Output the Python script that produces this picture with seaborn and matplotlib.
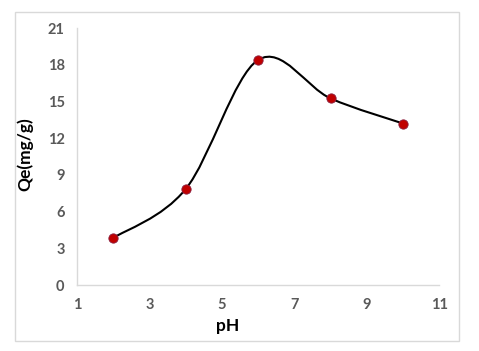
import seaborn as sns
import matplotlib.pyplot as plt
import numpy as np
from matplotlib.path import Path
from matplotlib.patches import PathPatch, Rectangle

ph = [2, 4, 6, 8, 10]
qe = [3.85, 7.85, 18.4, 15.25, 13.2]
xticks = [1, 3, 5, 7, 9, 11]
yticks = [0, 3, 6, 9, 12, 15, 18, 21]

sns.set_style("white")
plt.rcParams['font.family'] = ['Lato', 'DejaVu Sans']

fig = plt.figure(figsize=(4.79, 3.51), dpi=100)
ax = fig.add_axes([0.161, 0.188, 0.756, 0.732])

# Excel-like smoothed line: cubic Bezier segments through the points
pts = np.column_stack([ph, qe]).astype(float)
verts = [pts[0]]
codes = [Path.MOVETO]
n = len(pts)
for i in range(n - 1):
    p0 = pts[i - 1] if i > 0 else pts[i]
    p1 = pts[i]
    p2 = pts[i + 1]
    p3 = pts[i + 2] if i + 2 < n else pts[i + 1]
    c1 = p1 + (p2 - p0) / 6
    c2 = p2 - (p3 - p1) / 6
    verts += [c1, c2, p2]
    codes += [Path.CURVE4] * 3
ax.add_patch(PathPatch(Path(verts, codes), fill=False, edgecolor="black", lw=1.5, zorder=2))

sns.scatterplot(x=ph, y=qe, ax=ax, color="#C00000", edgecolor="#8a2040",
                linewidth=0.6, s=45, zorder=3)

ax.set_xlim(1, 11)
ax.set_ylim(0, 21)
ax.set_xticks(xticks)
ax.set_yticks(yticks)
ax.tick_params(length=0, labelsize=10.5, labelcolor="#595959", pad=9)
for lab in ax.get_xticklabels() + ax.get_yticklabels():
    lab.set_fontweight("bold")

for s in ["top", "right"]:
    ax.spines[s].set_visible(False)
for s in ["left", "bottom"]:
    ax.spines[s].set_color("#d9d9d9")
    ax.spines[s].set_linewidth(1.0)

ax.set_xlabel("pH", fontsize=12.5, fontweight="bold", color="black")
ax.xaxis.set_label_coords(0.417, -0.13)
ax.set_ylabel("Qe(mg/g)", fontsize=12.5, fontweight="bold", color="black")
ax.yaxis.set_label_coords(-0.12, 0.51)

fig.patches.append(Rectangle((0.031, 0.028), 0.928, 0.937, transform=fig.transFigure,
                             fill=False, edgecolor="#d9d9d9", lw=1.0))

fig.savefig("out.png", dpi=100)
